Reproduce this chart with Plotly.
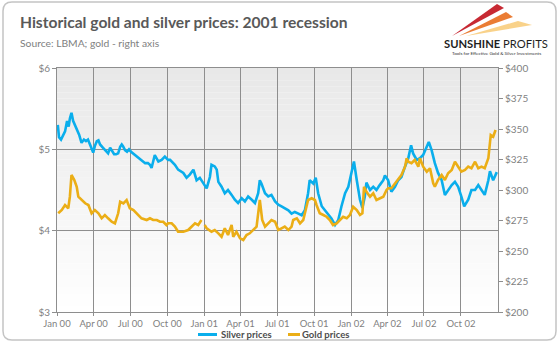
import plotly.graph_objects as go

# Silver (USD/oz, left axis)
silver_dates = [
    "2000-01-03", "2000-01-06", "2000-01-11", "2000-01-16", "2000-01-21", "2000-01-26", "2000-01-30",
    "2000-02-02", "2000-02-06", "2000-02-10", "2000-02-15", "2000-02-20", "2000-02-25", "2000-03-02",
    "2000-03-08", "2000-03-13", "2000-03-18", "2000-03-23", "2000-03-27", "2000-03-31", "2000-04-04",
    "2000-04-09", "2000-04-13", "2000-04-17", "2000-04-24", "2000-05-02", "2000-05-07", "2000-05-12",
    "2000-05-17", "2000-05-22", "2000-05-27", "2000-06-01", "2000-06-06", "2000-06-10", "2000-06-13",
    "2000-06-18", "2000-06-23", "2000-06-28", "2000-07-03", "2000-07-08", "2000-07-13", "2000-07-18",
    "2000-07-23", "2000-07-28", "2000-08-02", "2000-08-07", "2000-08-14", "2000-08-19", "2000-08-23",
    "2000-08-31", "2000-09-09", "2000-09-17", "2000-09-25", "2000-10-03", "2000-10-08", "2000-10-20",
    "2000-10-28", "2000-11-10", "2000-11-18", "2000-11-26", "2000-12-05", "2000-12-13", "2000-12-21",
    "2000-12-29", "2001-01-07", "2001-01-15", "2001-01-19", "2001-01-27", "2001-02-01", "2001-02-05",
    "2001-02-13", "2001-02-21", "2001-03-01", "2001-03-10", "2001-03-18", "2001-03-26", "2001-04-04",
    "2001-04-12", "2001-04-20", "2001-04-29", "2001-05-07", "2001-05-15", "2001-05-19", "2001-05-23",
    "2001-06-01", "2001-06-09", "2001-06-17", "2001-06-26", "2001-07-04", "2001-07-12", "2001-07-20",
    "2001-07-29", "2001-08-06", "2001-08-14", "2001-08-23", "2001-08-31", "2001-09-08", "2001-09-16",
    "2001-09-20", "2001-09-29", "2001-10-05", "2001-10-11", "2001-10-20", "2001-10-28", "2001-11-05",
    "2001-11-13", "2001-11-22", "2001-11-30", "2001-12-08", "2001-12-17", "2001-12-25", "2002-01-02",
    "2002-01-08", "2002-01-15", "2002-01-23", "2002-01-29", "2002-02-04", "2002-02-08", "2002-02-17",
    "2002-02-25", "2002-03-05", "2002-03-13", "2002-03-22", "2002-03-26", "2002-04-03", "2002-04-11",
    "2002-04-20", "2002-04-28", "2002-05-06", "2002-05-15", "2002-05-23", "2002-05-30", "2002-06-04",
    "2002-06-13", "2002-06-21", "2002-06-29", "2002-07-08", "2002-07-13", "2002-07-20", "2002-07-28",
    "2002-08-05", "2002-08-14", "2002-08-22", "2002-08-30", "2002-09-08", "2002-09-16", "2002-09-24",
    "2002-10-02", "2002-10-09", "2002-10-19", "2002-10-27", "2002-11-05", "2002-11-13", "2002-11-21",
    "2002-11-29", "2002-12-08", "2002-12-12", "2002-12-20", "2002-12-29",
]
silver_prices = [
    5.30, 5.15, 5.12, 5.18, 5.22, 5.35, 5.28,
    5.38, 5.45, 5.35, 5.30, 5.24, 5.18, 5.08,
    5.12, 5.10, 5.12, 5.06, 5.02, 4.96, 5.04,
    5.10, 5.11, 5.06, 5.02, 4.98, 4.95, 5.02,
    4.98, 4.94, 4.94, 4.95, 5.03, 5.06, 5.04,
    4.99, 4.97, 5.00, 4.97, 4.95, 4.94, 4.92,
    4.90, 4.87, 4.85, 4.83, 4.83, 4.81, 4.77,
    4.93, 4.85, 4.87, 4.91, 4.87, 4.87, 4.81,
    4.75, 4.71, 4.65, 4.69, 4.75, 4.62, 4.65,
    4.58, 4.52, 4.66, 4.81, 4.79, 4.75, 4.60,
    4.54, 4.46, 4.50, 4.44, 4.38, 4.34, 4.40,
    4.36, 4.42, 4.38, 4.34, 4.46, 4.62, 4.58,
    4.46, 4.42, 4.44, 4.36, 4.32, 4.30, 4.28,
    4.25, 4.21, 4.23, 4.21, 4.19, 4.25, 4.46,
    4.62, 4.58, 4.65, 4.46, 4.30, 4.25, 4.19,
    4.15, 4.07, 4.13, 4.30, 4.46, 4.54, 4.71,
    4.85, 4.62, 4.38, 4.28, 4.42, 4.59, 4.50,
    4.54, 4.50, 4.56, 4.62, 4.68, 4.62, 4.48,
    4.54, 4.62, 4.66, 4.79, 4.89, 5.05, 4.95,
    4.87, 4.89, 4.93, 5.03, 5.09, 4.99, 4.83,
    4.71, 4.62, 4.44, 4.50, 4.56, 4.60, 4.54,
    4.42, 4.30, 4.38, 4.50, 4.50, 4.56, 4.50,
    4.44, 4.62, 4.73, 4.62, 4.72,
]

# Gold (USD/oz, right axis); None marks the missing year-end quote
gold_dates = [
    "2000-01-04", "2000-01-13", "2000-01-21", "2000-01-29", "2000-02-02", "2000-02-06", "2000-02-13",
    "2000-02-19", "2000-02-23", "2000-03-02", "2000-03-11", "2000-03-19", "2000-03-27", "2000-04-04",
    "2000-04-13", "2000-04-21", "2000-04-29", "2000-05-07", "2000-05-16", "2000-05-24", "2000-06-01",
    "2000-06-06", "2000-06-14", "2000-06-22", "2000-06-30", "2000-07-09", "2000-07-17", "2000-07-29",
    "2000-08-11", "2000-08-19", "2000-08-27", "2000-09-05", "2000-09-13", "2000-09-21", "2000-09-29",
    "2000-10-03", "2000-10-12", "2000-10-20", "2000-10-28", "2000-11-10", "2000-11-22", "2000-11-30",
    "2000-12-09", "2000-12-17", "2000-12-25", "2000-12-29", "2001-01-02", "2001-01-07", "2001-01-19",
    "2001-01-27", "2001-02-05", "2001-02-13", "2001-02-21", "2001-03-01", "2001-03-10", "2001-03-14",
    "2001-03-22", "2001-03-31", "2001-04-08", "2001-04-16", "2001-04-24", "2001-05-03", "2001-05-11",
    "2001-05-15", "2001-05-19", "2001-05-25", "2001-06-01", "2001-06-09", "2001-06-17", "2001-06-26",
    "2001-07-04", "2001-07-12", "2001-07-20", "2001-07-29", "2001-08-06", "2001-08-10", "2001-08-19",
    "2001-08-27", "2001-09-04", "2001-09-10", "2001-09-16", "2001-09-25", "2001-10-03", "2001-10-07",
    "2001-10-15", "2001-10-24", "2001-11-01", "2001-11-09", "2001-11-17", "2001-11-26", "2001-12-04",
    "2001-12-12", "2001-12-21", "2001-12-29", "2002-01-06", "2002-01-15", "2002-01-23", "2002-01-29",
    "2002-02-02", "2002-02-08", "2002-02-17", "2002-02-25", "2002-03-05", "2002-03-13", "2002-03-22",
    "2002-03-30", "2002-04-03", "2002-04-11", "2002-04-20", "2002-04-28", "2002-05-06", "2002-05-15",
    "2002-05-19", "2002-05-23", "2002-05-31", "2002-06-08", "2002-06-17", "2002-06-21", "2002-06-29",
    "2002-07-08", "2002-07-16", "2002-07-24", "2002-07-28", "2002-08-05", "2002-08-14", "2002-08-22",
    "2002-08-30", "2002-09-08", "2002-09-16", "2002-09-24", "2002-10-02", "2002-10-11", "2002-10-19",
    "2002-10-27", "2002-11-05", "2002-11-13", "2002-11-21", "2002-11-29", "2002-12-08", "2002-12-14",
    "2002-12-20", "2002-12-26",
]
gold_prices = [
    280.9, 283.6, 287.7, 285.0, 294.5, 312.3, 308.2,
    302.7, 294.5, 291.8, 289.1, 287.7, 280.9, 283.6,
    280.9, 276.8, 279.5, 276.8, 274.0, 272.7, 280.9,
    290.4, 289.1, 291.8, 285.0, 283.6, 280.9, 276.8,
    275.4, 276.8, 275.4, 275.4, 274.0, 274.0, 271.3,
    272.7, 272.7, 270.0, 265.8, 265.8, 267.2, 270.0,
    272.7, 271.3, 275.4, None, 271.3, 268.6, 265.8,
    267.2, 264.5, 261.7, 268.6, 263.1, 271.3, 261.7,
    265.8, 260.4, 259.0, 263.1, 264.5, 267.2, 270.0,
    280.9, 291.8, 275.4, 270.0, 272.7, 275.4, 274.0,
    267.2, 268.6, 270.0, 267.2, 270.0, 275.4, 276.8,
    272.7, 275.4, 283.6, 291.8, 293.2, 291.8, 287.7,
    280.9, 279.5, 278.1, 275.4, 271.3, 272.7, 275.4,
    278.1, 276.8, 279.5, 286.3, 283.6, 279.5, 280.9,
    302.7, 298.6, 294.5, 297.3, 291.8, 293.2, 294.5,
    300.0, 301.4, 301.4, 305.5, 309.6, 312.3, 319.1,
    326.0, 323.2, 321.9, 324.6, 319.1, 326.0, 319.1,
    315.0, 317.8, 305.5, 302.7, 308.2, 312.3, 308.2,
    313.7, 316.4, 323.2, 319.1, 315.0, 316.4, 319.1,
    317.8, 323.2, 317.8, 319.1, 317.8, 326.0, 345.1,
    343.7, 349.2,
]

# Quarterly date ticks
quarter_ticks = [
    "2000-01-01", "2000-04-01", "2000-07-01", "2000-10-01",
    "2001-01-01", "2001-04-01", "2001-07-01", "2001-10-01",
    "2002-01-01", "2002-04-01", "2002-07-01", "2002-10-01",
]
quarter_labels = [
    "Jan 00", "Apr 00", "Jul 00", "Oct 00",
    "Jan 01", "Apr 01", "Jul 01", "Oct 01",
    "Jan 02", "Apr 02", "Jul 02", "Oct 02",
]

SILVER = "#0AAEEC"
GOLD = "#EBAE16"
GRID = "#8E8E8E"
TICKFONT = dict(family="Lato", size=9.5, color="#7F7F7F")

W, H = 560, 344
# plot box in pixels (left, right, top, bottom)
BOX_L, BOX_R, BOX_T, BOX_B = 57, 498, 68, 312


def fx(x):
    """pixel column -> paper x (paper spans the whole figure)"""
    return x / W


def fy(y):
    """pixel row (from top) -> paper y"""
    return 1 - y / H


fig = go.Figure()
fig.add_trace(go.Scatter(
    x=silver_dates, y=silver_prices, name="Silver prices", mode="lines",
    line=dict(color=SILVER, width=2.6), yaxis="y",
))
fig.add_trace(go.Scatter(
    x=gold_dates, y=gold_prices, name="Gold prices", mode="lines",
    line=dict(color=GOLD, width=2.6), yaxis="y2", connectgaps=False,
))

shapes = []

# soft vertical gradient behind the plot area
n_bands = 40
for i in range(n_bands):
    mid = (i + 0.5) / n_bands
    c = round(255 - (255 - 232) * mid)
    shapes.append(dict(
        type="rect", xref="x domain", yref="y domain",
        x0=0, x1=1, y0=i / n_bands, y1=(i + 1) / n_bands,
        fillcolor=f"rgb({c},{c},{c})", line=dict(width=0), layer="below",
    ))


# rounded outer frame
def rounded_rect(x0, y0, x1, y1, r):
    return (
        f"M {fx(x0 + r)},{fy(y0)} L {fx(x1 - r)},{fy(y0)} "
        f"Q {fx(x1)},{fy(y0)} {fx(x1)},{fy(y0 + r)} L {fx(x1)},{fy(y1 - r)} "
        f"Q {fx(x1)},{fy(y1)} {fx(x1 - r)},{fy(y1)} L {fx(x0 + r)},{fy(y1)} "
        f"Q {fx(x0)},{fy(y1)} {fx(x0)},{fy(y1 - r)} L {fx(x0)},{fy(y0 + r)} "
        f"Q {fx(x0)},{fy(y0)} {fx(x0 + r)},{fy(y0)} Z"
    )


shapes.append(dict(
    type="path", xref="paper", yref="paper",
    path=rounded_rect(3, 2, 556, 340, 9),
    line=dict(color="#C4C4C4", width=1.5), fillcolor="rgba(0,0,0,0)", layer="below",
))


# logo rays
def wedge(points, color):
    p = "M " + " L ".join(f"{fx(a)},{fy(b)}" for a, b in points) + " Z"
    return dict(type="path", xref="paper", yref="paper", path=p,
                fillcolor=color, line=dict(width=0), layer="above")


shapes.append(wedge([(452, 36), (497, 4), (504, 8)], "rgba(196,30,40,0.95)"))
shapes.append(wedge([(459, 36), (506, 12), (513, 17)], "rgba(232,110,30,0.9)"))
shapes.append(wedge([(466, 36), (518, 21), (532, 25)], "rgba(245,180,60,0.6)"))

# hand-drawn legend keys
LEG_Y = 334.5
shapes.append(dict(type="line", xref="paper", yref="paper",
                   x0=fx(198), x1=fx(217), y0=fy(LEG_Y), y1=fy(LEG_Y),
                   line=dict(color=SILVER, width=3)))
shapes.append(dict(type="line", xref="paper", yref="paper",
                   x0=fx(288), x1=fx(300), y0=fy(LEG_Y), y1=fy(LEG_Y),
                   line=dict(color=GOLD, width=3)))

annotations = [
    dict(text="<b>Historical gold and silver prices: 2001 recession</b>",
         x=fx(18), y=fy(22), xref="paper", yref="paper", xanchor="left", yanchor="middle",
         showarrow=False, font=dict(family="Lato", size=15.6, color="#595959")),
    dict(text="Source: LBMA; gold - right axis",
         x=fx(18), y=fy(43), xref="paper", yref="paper", xanchor="left", yanchor="middle",
         showarrow=False, font=dict(family="Lato", size=10.3, color="#808080")),
    dict(text="<b>SUNSHINE</b> PROFITS",
         x=fx(496), y=fy(43.5), xref="paper", yref="paper", xanchor="center", yanchor="middle",
         showarrow=False, font=dict(family="Lato", size=11.2, color="#1E1E1E")),
    dict(text="Tools for Effective Gold & Silver Investments",
         x=fx(496), y=fy(53.5), xref="paper", yref="paper", xanchor="center", yanchor="middle",
         showarrow=False, font=dict(family="Lato", size=4.6, color="#333333")),
    dict(text="<b>Silver prices</b>",
         x=fx(219), y=fy(LEG_Y), xref="paper", yref="paper", xanchor="left", yanchor="middle",
         showarrow=False, font=dict(family="Lato", size=9.5, color="#4D4D4D")),
    dict(text="<b>Gold prices</b>",
         x=fx(300), y=fy(LEG_Y), xref="paper", yref="paper", xanchor="left", yanchor="middle",
         showarrow=False, font=dict(family="Lato", size=9.5, color="#4D4D4D")),
]

fig.update_layout(
    width=W, height=H,
    margin=dict(l=0, r=0, t=0, b=0, pad=0, autoexpand=False),
    paper_bgcolor="white", plot_bgcolor="rgba(0,0,0,0)",
    showlegend=False,
    shapes=shapes, annotations=annotations,
    xaxis=dict(
        type="date", range=["2000-01-01", "2003-01-01"],
        domain=[BOX_L / W, BOX_R / W], automargin=False,
        tickvals=quarter_ticks, ticktext=quarter_labels,
        showgrid=True, gridcolor=GRID, gridwidth=1,
        showline=True, linecolor=GRID, linewidth=1, mirror=True,
        ticks="outside", ticklen=3, tickcolor=GRID,
        tickfont=TICKFONT, fixedrange=True,
    ),
    yaxis=dict(
        range=[3, 6], dtick=1, tickprefix="$", tickformat="d",
        domain=[1 - BOX_B / H, 1 - BOX_T / H], automargin=False,
        showgrid=True, gridcolor=GRID, gridwidth=1,
        showline=True, linecolor=GRID, linewidth=1,
        ticks="outside", ticklen=4, tickcolor=GRID,
        tickfont=dict(TICKFONT, size=10), zeroline=False,
    ),
    yaxis2=dict(
        range=[200, 400], dtick=25, tickprefix="$", tickformat="d",
        overlaying="y", side="right", showgrid=False, automargin=False,
        showline=True, linecolor=GRID, linewidth=1,
        ticks="outside", ticklen=4, tickcolor=GRID,
        tickfont=dict(TICKFONT, size=10), zeroline=False,
    ),
)

fig.write_html("out.html")
